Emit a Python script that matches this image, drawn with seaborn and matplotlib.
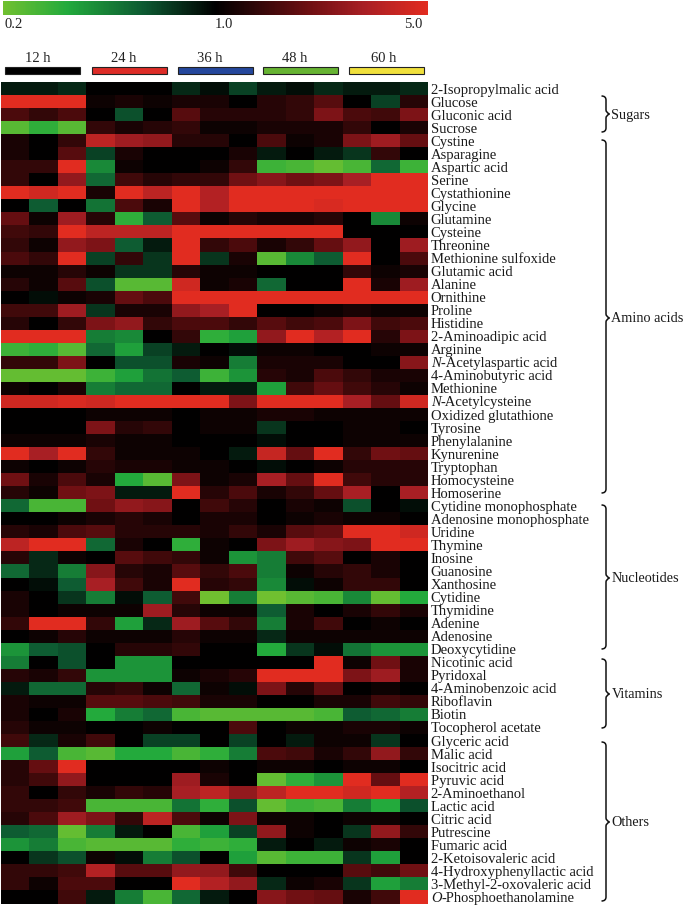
import numpy as np
import pandas as pd
import matplotlib
matplotlib.use('Agg')
import matplotlib.pyplot as plt
import seaborn as sns
from matplotlib.colors import LinearSegmentedColormap
from matplotlib.colorbar import ColorbarBase
from matplotlib.patches import PathPatch, Rectangle
from matplotlib.path import Path
from matplotlib.transforms import Affine2D

sns.set_theme(style='white')
plt.rcParams['font.family'] = ['Liberation Serif', 'DejaVu Serif']

W, H = 685, 906

times = ['12 h', '24 h', '36 h', '48 h', '60 h']
time_colors = ['#000000', '#dd2c27', '#24479c', '#66b332', '#f0e03c']

# fold change on a log5 scale, in tenths: -10 is 0.2, 0 is 1.0, 10 is 5.0
other_first = ['2-Isopropylmalic acid']
other_first_vals = [
    [-1, -1, -1.5, 0, 0, 0, -1.5, -.5, -2.5, -1, -.5, -1.5, -1, -1, -1.5],
]

sugars = ['Glucose', 'Gluconic acid', 'Sucrose']
sugars_vals = [
    [10, 10, 10, .5, 1, .5, 1, 1, 0, 1.5, 2, 3.5, 0, -2.5, 1.5],
    [3, 2, 3, 0, -3, 0, 3.5, 1.5, 1.5, 1.5, 2, 5, 3, 2.5, 5],
    [-9, -7.5, -9, 2, 1, 1.5, 2, .5, .5, 1, 1, 1, 2, 0, 1],
]

amino_acids = ['Cystine', 'Asparagine', 'Aspartic acid', 'Serine', 'Cystathionine',
               'Glycine', 'Glutamine', 'Cysteine', 'Threonine', 'Methionine sulfoxide',
               'Glutamic acid', 'Alanine', 'Ornithine', 'Proline', 'Histidine',
               '2-Aminoadipic acid', 'Arginine', 'N-Acetylaspartic acid',
               '4-Aminobutyric acid', 'Methionine', 'N-Acetylcysteine',
               'Oxidized glutathione', 'Tyrosine', 'Phenylalanine', 'Kynurenine',
               'Tryptophan', 'Homocysteine', 'Homoserine']
amino_vals = [
    [1, 0, 2, 8, 6.5, 6, 1.5, 1.5, 0, 3, .5, 1, 5, 6.5, 4],
    [1, 0, 3.5, -2.5, 1, 0, 0, 0, 1, -1, 0, -1, -2, 2, 0],
    [2, 2, 10, -5.5, .5, 0, 0, .5, 2, -8, -8.5, -9.5, -8.5, -4, -8],
    [2, 0, 6, -4, 2.5, 1.5, 2, 2, 4.5, 5.5, 4.5, 5, 7, 10, 10],
    [10, 9, 10, 1, 10, 8, 10, 7.5, 10, 10, 10, 10, 10, 10, 10],
    [0, -3.5, 0, -4.5, 3, 1, 10, 7.5, 10, 10, 10, 9.5, 10, 10, 10],
    [4, .5, 6.5, 1.5, -7.5, -3.5, 3.5, .5, 1.5, 1, 1, 1.5, 0, -5.5, .5],
    [2.5, 2, 10, 8, 8, 8, 10, 10, 10, 10, 10, 10, 0, 0, 0],
    [2, .5, 6, 5, -3.5, -1, 10, 2, 3, 1, 2, 4, 6, 0, 6.5],
    [3, 2, 10, -2.5, 2, -2, 10, -2, 1, -9, -5.5, -3.5, 10, 0, 3],
    [.5, .5, 1.5, .5, -2, -2, 1.5, .5, .5, 0, 0, 0, 2, .5, 1],
    [1.5, .5, 3.5, -3, -9, -9, 9, .5, 1, -4, 0, 0, 10, 1, 6.5],
    [0, -.5, .5, 1, 4, 3, 10, 10, 10, 10, 10, 10, 10, 10, 10],
    [2.5, 2.5, 6.5, -2, 1, 1, 6, 7, 10, 0, 0, .5, 1, .5, .5],
    [1.5, 0, 2, 5, 6, 2, 3, 3, 2, 3.5, 2.5, 3, 5, 2.5, 3],
    [10, 10, 10, -5, -5.5, 0, 2, -7.5, -6.5, 6, 10, 7.5, 10, 1.5, 5],
    [-8, -7.5, -9, -4, -6.5, -2.5, -1, 0, -.5, .5, .5, 0, 0, .5, .5],
    [2, 2, 5, 0, -3, -3, 1, .5, -5, 1, 1, 1, 0, 0, 5.5],
    [-9.5, -9.5, -9.5, -8, -6.5, -4.5, -3.5, -8, -6, 1.5, 1, 3, 2, 1, 1],
    [.5, 0, 1, -5, -4, -4, 0, -1, -1, -6.5, 2.5, 4, 2.5, 1.5, .5],
    [9, 9, 9.5, 9, 10, 10, 10, 10, 5, 10, 10, 10, 7, 4, 9],
    [0, 0, 0, .5, .5, .5, 0, .5, .5, 1, 1, .5, .5, .5, .5],
    [0, 0, 0, 5, 1.5, 2, 0, .5, .5, -2, 0, 0, .5, .5, 0],
    [.5, .5, .5, 1, .5, .5, 0, 0, 0, -.5, 0, 0, .5, .5, .5],
    [10, 7, 10, 2, .5, .5, .5, 0, -1, 8.5, 4, 10, 2, 4.5, 4],
    [.5, 0, .5, 1.5, 1, 1, .5, .5, 0, -.5, 0, .5, 1.5, 1.5, 1.5],
    [4.5, 1, 3, 1, -7, -9, 5, .5, 1, 7, 4, 10, 2.5, 1.5, 1.5],
    [1.5, .5, 4.5, 5, -1, -1, 10, 1.5, 3, 1, 2, 4, 7, 0, 7],
]

nucleotides = ['Cytidine monophosphate', 'Adenosine monophosphate', 'Uridine', 'Thymine',
               'Inosine', 'Guanosine', 'Xanthosine', 'Cytidine', 'Thymidine', 'Adenine',
               'Adenosine', 'Deoxycytidine']
nucleotide_vals = [
    [-4, -8.5, -8.5, 4.5, 6, 5.5, 0, 2.5, 1.5, 0, 1, .5, -3, 0, -.5],
    [0, 0, .5, 1, 1.5, 1, 0, 1, 1, 0, .5, 1, .5, .5, 0],
    [1.5, 1, 3, 3.5, 1.5, 1.5, 1.5, 1, 2, 1, 3.5, 4, 10, 10, 9],
    [8, 10, 10, -4, 1, 0, -7.5, .5, 0, 5, 6.5, 5.5, 5, 10, 10],
    [1.5, -1.5, .5, 0, 3.5, 2.5, 2, .5, -6, -5, 2.5, 3.5, 0, 1, 0],
    [-4, -1.5, -5, 5.5, 1.5, 1, 3.5, 2, 3, -5, .5, 1.5, 2, 1, 0],
    [0, -.5, -3.5, 7, 2.5, 1, 10, 1.5, 2, -5.5, -.5, .5, 2, 2, 0],
    [1, 0, -2, -5, -.5, -3.5, 2.5, -10, -5, -10, -9, -8.5, -5.5, -9.5, -7],
    [1, 0, .5, .5, .5, 6.5, 1.5, .5, .5, -3.5, 1, 0, 1, 2, 1],
    [2, 10, 10, 2, -6.5, -1.5, 6.5, 3.5, 2, -5, 1, 2.5, 0, .5, 0],
    [0, .5, 1.5, .5, .5, .5, 1.5, .5, .5, -1.5, .5, .5, .5, .5, .5],
    [-6, -3.5, -3, 0, 1.5, 1.5, 2, 0, 0, -7, -2, -.5, -4.5, -6, -6],
]

vitamins = ['Nicotinic acid', 'Pyridoxal', '4-Aminobenzoic acid', 'Riboflavin', 'Biotin',
            'Tocopherol acetate']
vitamin_vals = [
    [-5, 0, -3, 0, -6, -6, 0, 0, 0, 0, 0, 10, .5, 4.5, 1],
    [1.5, 1, 2, -6, -6, -6, .5, 1, 1.5, 10, 10, 10, 5, 6.5, 1],
    [-1, -4, -4, 1.5, 2, .5, -4, .5, -.5, 5, 1.5, 4, 0, .5, 0],
    [1, .5, .5, 3.5, 3.5, 3, 2.5, 1, 1, 0, 0, 1, 1, 2.5, 2],
    [1, 0, 1, -7, -5, -4, -8.5, -9, -9, -9, -9, -8.5, -3.5, -4, -5],
    [1.5, .5, .5, 0, 0, .5, 0, 0, 3, 0, .5, .5, 1, 1, .5],
]

others = ['Glyceric acid', 'Malic acid', 'Isocitric acid', 'Pyruvic acid', '2-Aminoethanol',
          'Lactic acid', 'Citric acid', 'Putrescine', 'Fumaric acid', '2-Ketoisovaleric acid',
          '4-Hydroxyphenyllactic acid', '3-Methyl-2-oxovaleric acid',
          'O-Phosphoethanolamine']
other_vals = [
    [2.5, -1.5, 1, 2.5, 0, -2.5, -2.5, 0, -2.5, 0, -1, .5, .5, -2, 0],
    [-6.5, -3.5, -8.5, -9, -7, -7, -8.5, -7.5, -5, 3, 2.5, 1, 2, 6, 2],
    [1.5, 4, 10, 0, 0, 0, 0, .5, 0, .5, .5, 0, .5, .5, 0],
    [1.5, 2.5, 6, 0, 0, 0, 6.5, 1, 0, -9.5, -7.5, -6, 10, 4, 10],
    [2, 0, 2, 1, 2, 1.5, 7, 8, 6, 8, 10, 10, 9, 10, 7.5],
    [2, 2, 2.5, -8.5, -8.5, -8.5, -4.5, -7.5, -3, -9.5, -8, -8.5, -5, -7, -3],
    [1.5, 3, 6.5, 5, 2, 8, 3, .5, 5, .5, .5, 0, .5, .5, 0],
    [-3.5, -4, -9.5, -5, -1, 0, -8.5, -6.5, -2.5, 6, .5, 0, -2, 6, 2],
    [-6, -5, -8.5, -9, -9, -9, -7.5, -8, -7.5, -1, 0, -1, .5, 1, 0],
    [0, -2, -3, .5, -.5, -5, -3, 0, -6.5, -9, -8, -8, -2, -6.5, 0],
    [2, 2, 2.5, 7.5, 3.5, 3.5, 6, 6, 2.5, 0, 0, 0, 3.5, 2.5, 4.5],
    [2, .5, 3, 3, 0, 0, 10, 7.5, 6, -1.5, .5, 1, -2, -6.5, -5],
    [0, 0, 2.5, -1, -5, -8.5, -4, -1, 0, 5.5, 4.5, 4, 1, 2.5, 10],
]

names = other_first + sugars + amino_acids + nucleotides + vitamins + others
values = other_first_vals + sugars_vals + amino_vals + nucleotide_vals + vitamin_vals + other_vals
columns = [f'{t} r{i}' for t in times for i in range(1, 4)]
df = pd.DataFrame(values, index=names, columns=columns)

# these names start with an italic letter
italic_first = ['N-Acetylaspartic acid', 'N-Acetylcysteine', 'O-Phosphoethanolamine']

groups = ['Sugars', 'Amino acids', 'Nucleotides', 'Vitamins', 'Others']
brace_top = [96, 140, 505, 659, 742]
brace_bot = [132, 493, 649, 728, 901]
brace_tip = [114, 318, 578, 694, 822]

cmap = LinearSegmentedColormap.from_list('gbr', [
    (0.00, '#70c030'), (0.15, '#22aa3c'), (0.33, '#0d5a32'), (0.50, '#000000'),
    (0.72, '#6e0f12'), (0.85, '#a81f24'), (1.00, '#e12c20')])


def px_axes(fig, x0, y0, x1, y1):
    return fig.add_axes([x0 / W, 1 - y1 / H, (x1 - x0) / W, (y1 - y0) / H])


fig = plt.figure(figsize=(W / 100, H / 100), dpi=100, facecolor='white')
px = Affine2D().scale(1 / W, -1 / H).translate(0, 1) + fig.transFigure

# colour key
cax = px_axes(fig, 3, 1, 428, 15)
cb = ColorbarBase(cax, cmap=cmap, orientation='horizontal')
cb.set_ticks([])
cb.outline.set_visible(False)
for lab, x, ha in [('0.2', 5, 'left'), ('1.0', 224, 'center'), ('5.0', 422, 'right')]:
    fig.text(x, 25, lab, transform=px, ha=ha, va='center', fontsize=10.5, color='#222222')

# time bars
bar_x = [5, 92, 178, 263, 349]
label_x = [38, 124, 210, 295, 384]
for t, c, x, lx in zip(times, time_colors, bar_x, label_x):
    fig.add_artist(Rectangle((x, 67), 75, 6.5, transform=px, facecolor=c,
                             edgecolor='#222222', linewidth=0.8))
    fig.text(lx, 59, t, transform=px, ha='center', va='center', fontsize=10.5, color='#222222')

# heat map
label_size = 10.5
ax = px_axes(fig, 1, 82, 428, 903.5)
sns.heatmap(df, ax=ax, cmap=cmap, vmin=-10, vmax=10, cbar=False,
            xticklabels=False, yticklabels=[n if n not in italic_first else '' for n in names])
ax.yaxis.tick_right()
ax.tick_params(axis='y', length=0, pad=2, labelrotation=0, labelsize=label_size, labelcolor='#1a1a1a')
ax.set_xlabel('')
ax.set_ylabel('')

# italic first letter, rest of the name set right after it
renderer = fig.canvas.get_renderer()
row_h = (903.5 - 82) / len(names)
for name in italic_first:
    y = 82 + (names.index(name) + 0.5) * row_h
    first = fig.text(430.8, y, name[0], transform=px, ha='left', va='center_baseline',
                     fontsize=label_size, style='italic', color='#1a1a1a')
    w = first.get_window_extent(renderer).width
    fig.text(430.8 + w, y, name[1:], transform=px, ha='left', va='center_baseline',
             fontsize=label_size, color='#1a1a1a')


def brace(top, bot, tip, x0=601.5, xs=606, xt=609.5):
    c = 4
    verts = [(x0, top), (xs, top), (xs, top + c), (xs, tip - c), (xs, tip - 1.5), (xt, tip),
             (xs, tip + 1.5), (xs, tip + c), (xs, bot - c), (xs, bot), (x0, bot)]
    codes = [Path.MOVETO, Path.CURVE3, Path.CURVE3, Path.LINETO, Path.CURVE3, Path.CURVE3,
             Path.CURVE3, Path.CURVE3, Path.LINETO, Path.CURVE3, Path.CURVE3]
    fig.add_artist(PathPatch(Path(verts, codes), transform=px, facecolor='none',
                             edgecolor='#111111', linewidth=1.1))


for g, top, bot, tip in zip(groups, brace_top, brace_bot, brace_tip):
    brace(top, bot, tip)
    fig.text(611.5, tip + 1, g, transform=px, ha='left', va='center', fontsize=10.3, color='#1a1a1a')

fig.savefig('out.png', dpi=100, facecolor='white')
plt.close(fig)
